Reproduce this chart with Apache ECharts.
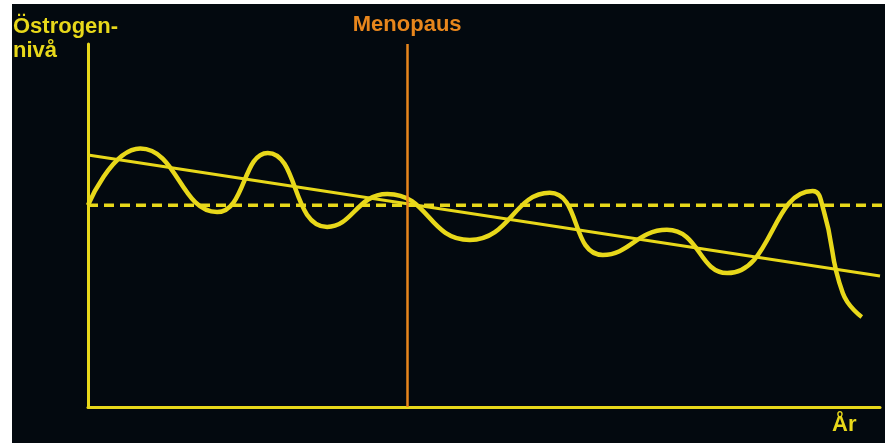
<!DOCTYPE html>
<html>
<head>
<meta charset="utf-8">
<script src="https://cdn.jsdelivr.net/npm/echarts@6/dist/echarts.min.js"></script>
<style>
html,body{margin:0;padding:0;background:#ffffff;width:885px;height:443px;overflow:hidden;}
#chart{position:absolute;left:12px;top:4px;width:873px;height:439px;}
</style>
</head>
<body>
<div id="chart"></div>
<script>
// Time (arbitrary units, 0..100) and estrogen level (arbitrary units, 0..100)
const years = [0, 6.6, 16.3, 22.7, 30.2, 37.8, 48.2, 58.3, 65.0, 73.1, 80.7, 91.5, 92.9, 95.3, 97.7];
const level = [55.6, 71.2, 53.7, 70.0, 49.6, 58.7, 46.0, 59.0, 41.9, 48.8, 36.9, 59.5, 54.0, 31.4, 24.8];
const trendX = [0, 100];
const trendY = [69.4, 36.1];
const baselineX = [0, 100.7];
const baselineLevel = 55.6;
const menopauseYear = 40.3;
const labels = { yName: ['Östrogen-', 'nivå'], xName: 'År', menopause: 'Menopaus' };

const YEL = '#e8d81a';
const ORA = '#e8861c';
const chart = echarts.init(document.getElementById('chart'));
chart.setOption({
  backgroundColor: '#03090f',
  animation: false,
  grid: { left: 76, right: 5, top: 40, bottom: 36 },
  xAxis: {
    type: 'value', min: 0, max: 100,
    axisLine: { show: true, lineStyle: { color: YEL, width: 3 } },
    axisTick: { show: false }, axisLabel: { show: false }, splitLine: { show: false }
  },
  yAxis: {
    type: 'value', min: 0, max: 100,
    axisLine: { show: true, lineStyle: { color: YEL, width: 3 } },
    axisTick: { show: false }, axisLabel: { show: false }, splitLine: { show: false }
  },
  series: [
    {
      type: 'line', symbol: 'none', clip: false,
      data: baselineX.map(x => [x, baselineLevel]),
      lineStyle: { color: YEL, width: 3.5, type: [10, 6] }
    },
    {
      type: 'line', symbol: 'none',
      data: trendX.map((x, i) => [x, trendY[i]]),
      lineStyle: { color: YEL, width: 3 }
    },
    {
      type: 'line', symbol: 'none', smooth: 0.5,
      data: years.map((x, i) => [x, level[i]]),
      lineStyle: { color: YEL, width: 4.5 },
      markLine: {
        symbol: ['none', 'none'], silent: true,
        lineStyle: { color: ORA, width: 2.5, type: 'solid' },
        label: {
          show: true, position: 'end', formatter: labels.menopause, distance: 8,
          color: ORA, fontFamily: 'Liberation Sans', fontWeight: 'bold', fontSize: 22
        },
        data: [{ xAxis: menopauseYear }]
      }
    }
  ],
  graphic: [
    { type: 'text', left: 1, top: 11, style: { text: labels.yName.join('\n'), fill: YEL, font: 'bold 22px "Liberation Sans"', lineHeight: 24 } },
    { type: 'text', left: 820, top: 410, style: { text: labels.xName, fill: YEL, font: 'bold 22px "Liberation Sans"' } }
  ]
});
</script>
</body>
</html>
